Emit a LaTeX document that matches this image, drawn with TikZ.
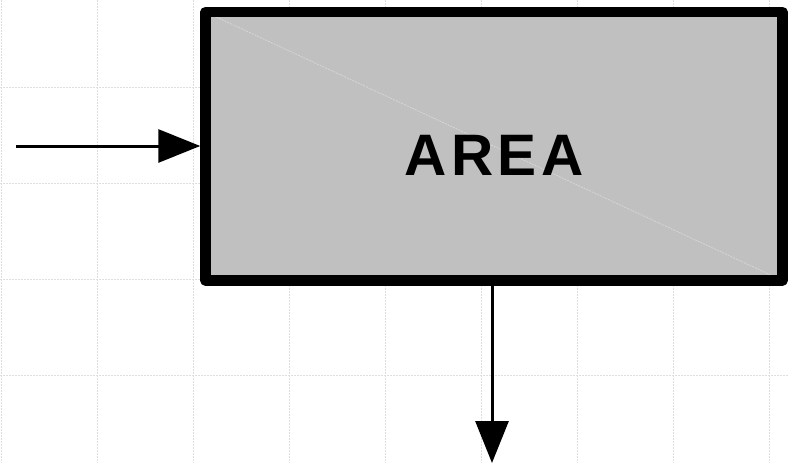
\documentclass[tikz,border=0pt]{standalone}
\usepackage{fontspec}
\setmainfont{Liberation Sans}
\newfontfamily\labelfont[LetterSpace=7.4]{Liberation Sans}
\usetikzlibrary{arrows.meta,calc}
\definecolor{boxgray}{RGB}{192,192,192}
\definecolor{gridgray}{RGB}{222,222,222}
\definecolor{diaggray}{RGB}{214,214,214}
\tikzset{
  gridline/.style={draw=gridgray, line width=1pt, dash pattern=on 2pt off 1pt},
  areabox/.style={draw=black, fill=boxgray, line width=10.5pt, line join=round,
    minimum width=577pt, minimum height=268.5pt, inner sep=0pt,
    text height=58pt,
    font=\labelfont\bfseries\fontsize{58.5}{60}\selectfont,
    path picture={\draw[diaggray, line width=0.8pt, dash pattern=on 2pt off 1pt]
      (path picture bounding box.north west) -- (path picture bounding box.south east);}},
  flow/.style={draw=black, line width=3pt,
    -{Triangle[length=42pt, width=33pt]}}
}
\begin{document}
\begin{tikzpicture}[x=1pt, y=-1pt]
  \useasboundingbox (0,0) rectangle (788,463);
  \fill[white] (0,0) rectangle (788,463);
  % background grid
  \foreach \gx in {1,97,...,769} \draw[gridline] (\gx,0) -- (\gx,463);
  \foreach \gy in {87,183,...,471} \draw[gridline] (0,\gy) -- (788,\gy);
  % the box
  \node[areabox] (area) at (494,146.25) {AREA};
  % connectors
  \coordinate (in) at (16,146);
  \coordinate (out) at (492,463);
  \draw[flow] (in) -- (in -| area.west);
  \draw[flow] (out |- area.south) -- (out);
\end{tikzpicture}
\end{document}
